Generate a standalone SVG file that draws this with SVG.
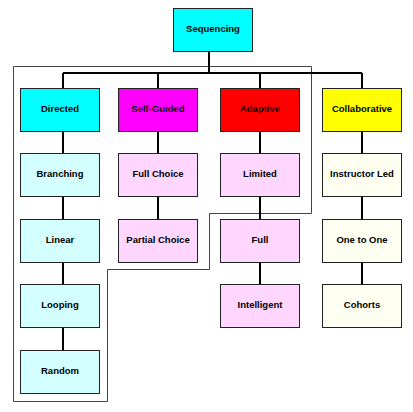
<svg xmlns="http://www.w3.org/2000/svg" width="413" height="412" viewBox="0 0 413 412">
<style>
.box{stroke:#222;stroke-width:1}
.lbl{font-family:"Liberation Sans",Arial,sans-serif;font-weight:bold;font-size:9.5px;text-anchor:middle;dominant-baseline:central;fill:#000}
.con{stroke:#000;stroke-width:2;fill:none}
.outline{stroke:#444;stroke-width:1;fill:none}
.cy{fill:#00FFFF}.mg{fill:#FF00FF}.rd{fill:#FF0000}.yl{fill:#FFFF00}
.lc{fill:#D4FFFF}.lp{fill:#FFD6FF}.ly{fill:#FFFFF2}
</style>
<rect width="413" height="412" fill="#fff"/>
<polygon class="outline" points="13.5,66.5 311.5,66.5 311.5,213.5 209.5,213.5 209.5,269.5 107.5,269.5 107.5,401.5 13.5,401.5"/>
<g id="connectors">
<path class="con" d="M209,51V73M63,73H362M63,73V88M158,73V88M260,73V88M362,73V88"/>
<path class="con" d="M63,131.5V153.5M63,197V219M63,262.5V284.5M63,328V350"/>
<path class="con" d="M158,131.5V153.5M158,197V219"/>
<path class="con" d="M260,131.5V153.5M260,197V219M260,262.5V284.5"/>
<path class="con" d="M362,131.5V153.5M362,197V219M362,262.5V284.5"/>
</g>
<g id="sequencing"><rect class="box cy" x="173.5" y="8.5" width="79" height="43"/><text class="lbl" x="213" y="28.5">Sequencing</text></g>
<g id="directed"><rect class="box cy" x="20.5" y="88.5" width="79" height="43"/><text class="lbl" x="60" y="108.5">Directed</text></g>
<g id="self-guided"><rect class="box mg" x="118.5" y="88.5" width="79" height="43"/><text class="lbl" x="158" y="108.5">Self-Guided</text></g>
<g id="adaptive"><rect class="box rd" x="220.5" y="88.5" width="79" height="43"/><text class="lbl" x="260" y="108.5">Adaptive</text></g>
<g id="collaborative"><rect class="box yl" x="322.5" y="88.5" width="79" height="43"/><text class="lbl" x="362" y="108.5">Collaborative</text></g>
<g id="branching"><rect class="box lc" x="20.5" y="153.5" width="79" height="43"/><text class="lbl" x="60" y="173.5">Branching</text></g>
<g id="linear"><rect class="box lc" x="20.5" y="219.5" width="79" height="43"/><text class="lbl" x="60" y="239.5">Linear</text></g>
<g id="looping"><rect class="box lc" x="20.5" y="284.5" width="79" height="43"/><text class="lbl" x="60" y="304.5">Looping</text></g>
<g id="random"><rect class="box lc" x="20.5" y="350.5" width="79" height="43"/><text class="lbl" x="60" y="370.5">Random</text></g>
<g id="full-choice"><rect class="box lp" x="118.5" y="153.5" width="79" height="43"/><text class="lbl" x="158" y="173.5">Full Choice</text></g>
<g id="partial-choice"><rect class="box lp" x="118.5" y="219.5" width="79" height="43"/><text class="lbl" x="158" y="239.5">Partial Choice</text></g>
<g id="limited"><rect class="box lp" x="220.5" y="153.5" width="79" height="43"/><text class="lbl" x="260" y="173.5">Limited</text></g>
<g id="full"><rect class="box lp" x="220.5" y="219.5" width="79" height="43"/><text class="lbl" x="260" y="239.5">Full</text></g>
<g id="intelligent"><rect class="box lp" x="220.5" y="284.5" width="79" height="43"/><text class="lbl" x="260" y="304.5">Intelligent</text></g>
<g id="instructor-led"><rect class="box ly" x="322.5" y="153.5" width="79" height="43"/><text class="lbl" x="362" y="173.5">Instructor Led</text></g>
<g id="one-to-one"><rect class="box ly" x="322.5" y="219.5" width="79" height="43"/><text class="lbl" x="362" y="239.5">One to One</text></g>
<g id="cohorts"><rect class="box ly" x="322.5" y="284.5" width="79" height="43"/><text class="lbl" x="362" y="304.5">Cohorts</text></g>
</svg>
